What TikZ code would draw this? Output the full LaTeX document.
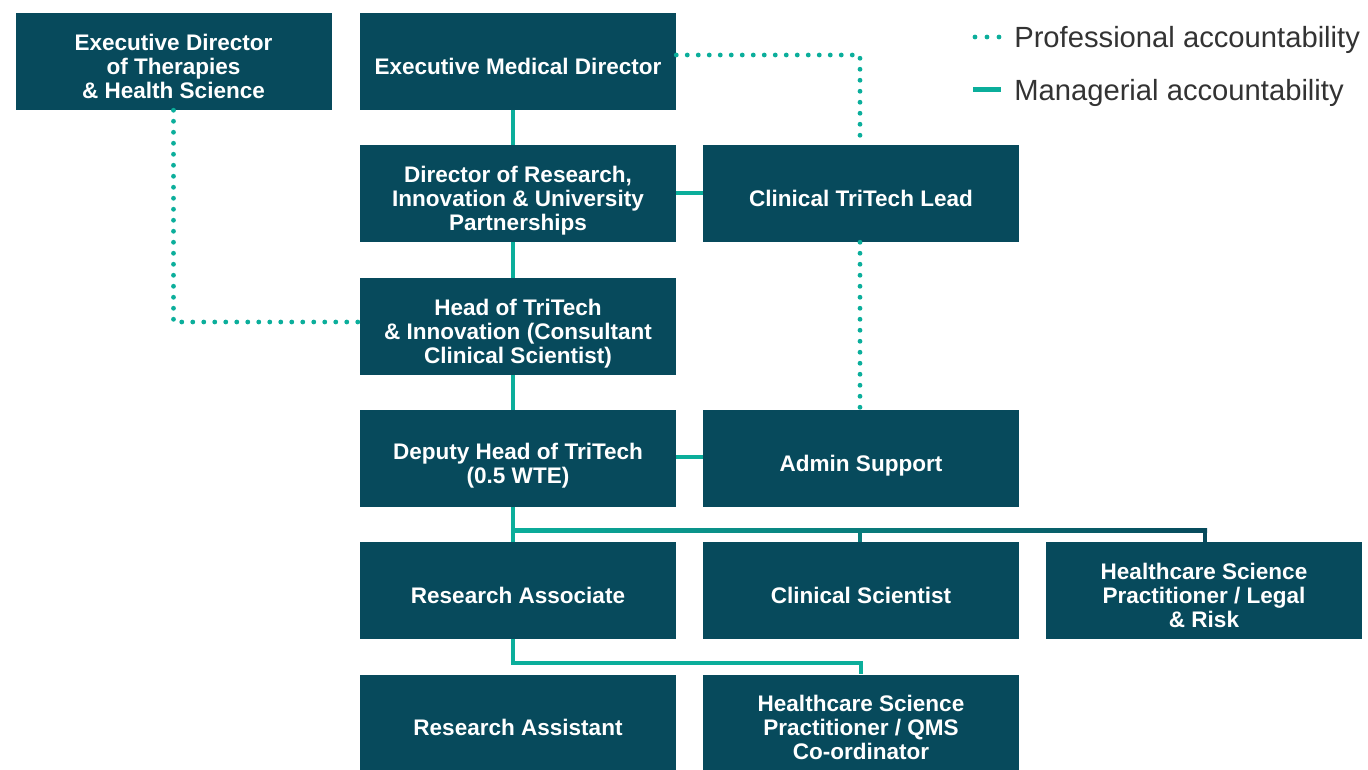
\documentclass[tikz,border=0pt]{standalone}
\usepackage{fontspec}
\setmainfont{Liberation Sans}
\definecolor{navy}{HTML}{074A5C}
\definecolor{teal}{HTML}{0BAE9B}
\definecolor{legtext}{HTML}{333333}
\newcommand\bxt[1]{\vbox{\vskip12pt\hbox{\begin{tabular}{@{}c@{}}#1\end{tabular}}}}
\begin{document}
\begin{tikzpicture}[x=0.75pt,y=-0.75pt,
  box/.style={fill=navy,minimum width=237pt,minimum height=72.75pt,inner sep=0pt,
    text=white,font=\bfseries\fontsize{16.9}{18}\selectfont},
  mgr/.style={draw=teal,line width=3pt},
  prof/.style={draw=teal,line width=3.6pt,line cap=round,dash pattern=on 0pt off 8.25pt},
  legend/.style={anchor=west,text=legtext,font=\fontsize{21.9}{24}\selectfont,inner sep=0pt}]
\useasboundingbox (0,0) rectangle (1368,770);
% nodes
\node[box] (edt) at (173.5,61.5) {\bxt{Executive Director\\of Therapies\\\& Health Science}};
\node[box] (emd) at (518,61.5) {\bxt{Executive Medical Director}};
\node[box] (dor) at (518,193.5) {\bxt{Director of Research,\\Innovation \& University\\Partnerships}};
\node[box] (ctl) at (861,193.5) {\bxt{Clinical TriTech Lead}};
\node[box] (hot) at (518,326.5) {\bxt{Head of TriTech\\\& Innovation (Consultant\\Clinical Scientist)}};
\node[box] (dep) at (518,458.5) {\bxt{Deputy Head of TriTech\\(0.5 WTE)}};
\node[box] (adm) at (861,458.5) {\bxt{Admin Support}};
\node[box] (ra) at (518,590.5) {\bxt{Research Associate}};
\node[box] (cs) at (861,590.5) {\bxt{Clinical Scientist}};
\node[box] (hsl) at (1204,590.5) {\bxt{Healthcare Science\\Practitioner / Legal\\\& Risk}};
\node[box] (ras) at (518,723) {\bxt{Research Assistant}};
\node[box] (hsq) at (861,723) {\bxt{Healthcare Science\\Practitioner / QMS\\Co-ordinator}};
% junction coordinates
\coordinate (j1) at (513,530);
\coordinate (j2) at (860,530);
\coordinate (j3) at (1205,530);
\coordinate (j4) at (513,663);
\coordinate (j5) at (861,663);
\coordinate (p1) at (860,55);
\coordinate (p2) at (173.5,322);
% managerial connectors
\draw[mgr] (emd.south -| j1) -- (dor.north -| j1);
\draw[mgr] (dor.south -| j1) -- (hot.north -| j1);
\draw[mgr] (hot.south -| j1) -- (dep.north -| j1);
\draw[mgr] (dor.east |- 0,193) -- (ctl.west |- 0,193);
\draw[mgr] (dep.east |- 0,457) -- (adm.west |- 0,457);
\draw[mgr] (dep.south -| j1) -- (ra.north -| j1);
\shade[left color=teal,right color=navy] (511,528) rectangle (1207,532);
\draw[draw=teal!50!navy,line width=3pt] (j2) -- (cs.north -| j2);
\draw[draw=navy,line width=3pt] (j3) -- (hsl.north -| j3);
\draw[mgr] (ra.south -| j4) -- (j4) -- (j5) -- (hsq.north -| j5);
% professional connectors
\draw[prof] (emd.east |- p1) -- (p1) -- (ctl.north -| p1);
\draw[prof] (ctl.south -| p1) -- (adm.north -| p1);
\draw[prof] (edt.south) -- (p2) -- (hot.west |- p2);
% legend
\coordinate (l1) at (975,37);
\coordinate (l2) at (1000,37);
\draw[prof,dash pattern=on 0pt off 9pt] (l1) -- (l2);
\node[legend] (lt1) at (1014,40) {Professional accountability};
\coordinate (l3) at (973,90);
\coordinate (l4) at (1001,90);
\draw[mgr,line width=3.75pt] (l3) -- (l4);
\node[legend] (lt2) at (1014,93) {Managerial accountability};
\end{tikzpicture}
\end{document}
